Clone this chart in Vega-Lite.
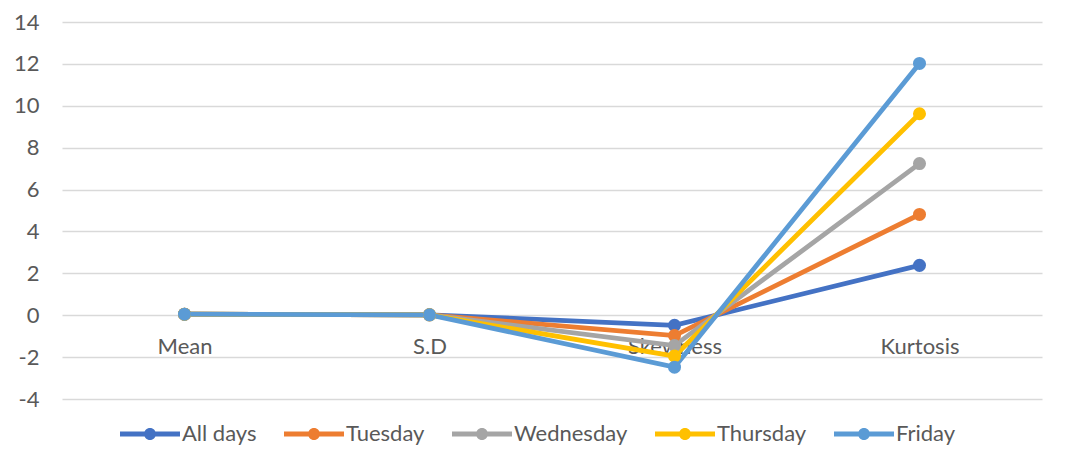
{
  "$schema": "https://vega.github.io/schema/vega-lite/v6.json",
  "autosize": {"type": "none"},
  "width": 980,
  "height": 377,
  "padding": {"left": 62, "top": 22, "right": 25, "bottom": 69},
  "background": "white",
  "config": {
    "view": {"stroke": null},
    "font": "Lato",
    "axis": {"labelFont": "Lato", "labelColor": "#595959", "labelFontSize": 22}
  },
  "data": {
    "values": [
      {"stat": "Mean", "series": "All days", "value": 0.05},
      {"stat": "S.D", "series": "All days", "value": 0.02},
      {"stat": "Skewness", "series": "All days", "value": -0.48},
      {"stat": "Kurtosis", "series": "All days", "value": 2.38},
      {"stat": "Mean", "series": "Tuesday", "value": 0.05},
      {"stat": "S.D", "series": "Tuesday", "value": 0.02},
      {"stat": "Skewness", "series": "Tuesday", "value": -0.97},
      {"stat": "Kurtosis", "series": "Tuesday", "value": 4.81},
      {"stat": "Mean", "series": "Wednesday", "value": 0.05},
      {"stat": "S.D", "series": "Wednesday", "value": 0.02},
      {"stat": "Skewness", "series": "Wednesday", "value": -1.45},
      {"stat": "Kurtosis", "series": "Wednesday", "value": 7.24},
      {"stat": "Mean", "series": "Thursday", "value": 0.05},
      {"stat": "S.D", "series": "Thursday", "value": 0.02},
      {"stat": "Skewness", "series": "Thursday", "value": -1.95},
      {"stat": "Kurtosis", "series": "Thursday", "value": 9.62},
      {"stat": "Mean", "series": "Friday", "value": 0.05},
      {"stat": "S.D", "series": "Friday", "value": 0.02},
      {"stat": "Skewness", "series": "Friday", "value": -2.48},
      {"stat": "Kurtosis", "series": "Friday", "value": 12.02}
    ]
  },
  "encoding": {
    "x": {
      "field": "stat", "type": "ordinal",
      "sort": ["Mean", "S.D", "Skewness", "Kurtosis"],
      "scale": {"type": "point", "padding": 0.5},
      "axis": {"title": null, "labelAngle": 0, "domain": false, "ticks": false, "grid": false, "offset": -84, "labelPadding": 21}
    },
    "y": {
      "field": "value", "type": "quantitative",
      "scale": {"domain": [-4, 14], "nice": false, "zero": false},
      "axis": {"title": null, "values": [-4, -2, 0, 2, 4, 6, 8, 10, 12, 14], "labelExpr": "datum.value + ''", "domain": false, "ticks": false, "labelPadding": 23, "gridColor": "#D9D9D9", "gridWidth": 1.3}
    },
    "color": {
      "field": "series", "type": "nominal",
      "sort": ["All days", "Tuesday", "Wednesday", "Thursday", "Friday"],
      "scale": {"domain": ["All days", "Tuesday", "Wednesday", "Thursday", "Friday"], "range": ["#4472C4", "#ED7D31", "#A5A5A5", "#FFC000", "#5B9BD5"]},
      "legend": {
        "title": null, "orient": "none", "direction": "horizontal", "columns": 5,
        "legendX": 58, "legendY": 382,
        "symbolType": "M-1,-0.085H1V0.085H-1Z M-0.2,0A0.2,0.2 0 1,1 0.2,0A0.2,0.2 0 1,1 -0.2,0Z",
        "symbolSize": 3600, "symbolStrokeWidth": 0, "symbolOpacity": 1,
        "labelFont": "Lato", "labelFontSize": 22, "labelColor": "#595959",
        "labelOffset": 2, "columnPadding": 27
      }
    }
  },
  "layer": [
    {"mark": {"type": "line", "strokeWidth": 4.8}},
    {"mark": {"type": "circle", "size": 170, "opacity": 1}}
  ]
}
